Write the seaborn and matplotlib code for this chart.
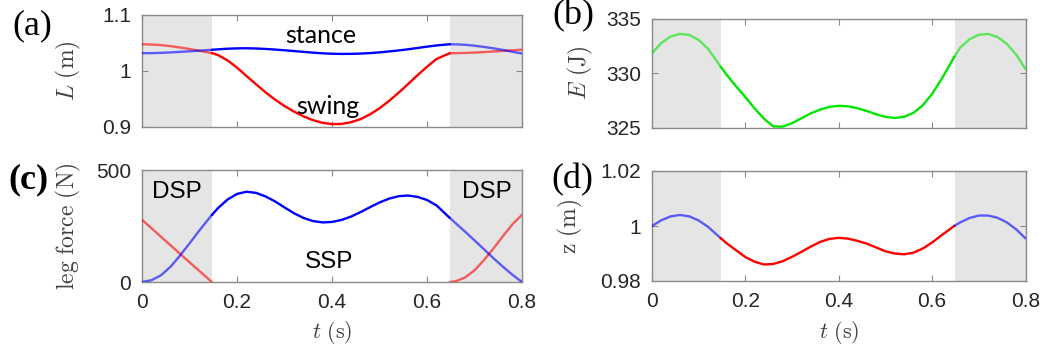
import numpy as np
import pandas as pd
import matplotlib
matplotlib.use("Agg")
import matplotlib.pyplot as plt
import seaborn as sns

# ---------------- data ----------------
t = [0, .02, .04, .06, .08, .10, .12, .147,
     .16, .18, .20, .22, .24, .26, .28, .30, .32, .34, .36, .38, .40, .42, .44, .46,
     .48, .50, .52, .54, .56, .58, .60, .62, .648,
     .66, .68, .70, .72, .74, .76, .78, .80]

dsp1_end = 0.147
dsp2_start = 0.648

# (a) leg length
L_stance = [1.0318, 1.0319, 1.0324, 1.0332, 1.0342, 1.0352, 1.0363, 1.0378,
            1.0387, 1.0398, 1.0404, 1.0406, 1.0402, 1.0394, 1.0383, 1.0370, 1.0356,
            1.0342, 1.0328, 1.0316, 1.0308, 1.0305, 1.0306, 1.0311, 1.0320, 1.0333,
            1.0349, 1.0367, 1.0388, 1.0411, 1.0435, 1.0456, 1.0478,
            1.0476, 1.0468, 1.0452, 1.0430, 1.0405, 1.0376, 1.0344, 1.0312]
L_swing = [1.0478, 1.0473, 1.0462, 1.0444, 1.0420, 1.0393, 1.0363, 1.0320,
           1.0285, 1.0190, 1.0060, 0.9910, 0.9765, 0.9620, 0.9490, 0.9375, 0.9275,
           0.9190, 0.9122, 0.9075, 0.9052, 0.9055, 0.9085, 0.9140, 0.9225, 0.9335,
           0.9465, 0.9610, 0.9765, 0.9925, 1.0075, 1.0215, 1.0318,
           1.0318, 1.0322, 1.0329, 1.0338, 1.0348, 1.0359, 1.0370, 1.0381]

# (b) energy
E = [331.84, 332.79, 333.39, 333.63, 333.53, 333.07, 332.26, 330.61,
     329.85, 328.80, 327.80, 326.75, 325.80, 325.10, 325.08, 325.40, 325.85,
     326.30, 326.65, 326.90, 327.00, 326.95, 326.78, 326.52, 326.22, 325.98,
     325.88, 325.98, 326.35, 327.05, 328.10, 329.45, 331.55,
     332.36, 333.13, 333.55, 333.62, 333.34, 332.71, 331.72, 330.39]

# (c) leg forces
F_blue = [0, 8, 30, 68, 118, 172, 228, 299,
          330, 368, 393, 403, 398, 382, 360, 333, 307, 286, 272, 266, 268, 277, 292,
          312, 334, 355, 372, 383, 386, 380, 366, 342, 286,
          263, 225, 186, 146, 106, 68, 32, 0]
F_red = [278, 240, 202, 164, 126, 88, 51, 0,
         None, None, None, None, None, None, None, None, None, None, None, None, None,
         None, None, None, None, None, None, None, None, None, None, None, 0,
         3, 20, 52, 98, 150, 205, 258, 300]

# (d) CoM height
z = [1.0000, 1.0021, 1.0035, 1.0040, 1.0035, 1.0020, 0.9997, 0.9956,
     0.9937, 0.9912, 0.9887, 0.9870, 0.9860, 0.9862, 0.9872, 0.9888, 0.9906,
     0.9925, 0.9942, 0.9953, 0.9957, 0.9954, 0.9946, 0.9936, 0.9922, 0.9908,
     0.9900, 0.9897, 0.9903, 0.9918, 0.9940, 0.9966, 1.0001,
     1.0013, 1.0029, 1.0038, 1.0038, 1.0030, 1.0013, 0.9988, 0.9955]

xticks = [0, 0.2, 0.4, 0.6, 0.8]
xticklabels = ["0", "0.2", "0.4", "0.6", "0.8"]

# ---------------- style ----------------
sns.set_style("white")
plt.rcParams["font.family"] = ["Liberation Sans", "DejaVu Sans"]
plt.rcParams["mathtext.fontset"] = "cm"

W, H = 1045, 349
fig = plt.figure(figsize=(W / 100, H / 100), dpi=100)

def px_rect(x0, x1, y0, y1):
    return [x0 / W, 1 - y1 / H, (x1 - x0) / W, (y1 - y0) / H]

ax_a = fig.add_axes(px_rect(142, 522, 15, 127))
ax_c = fig.add_axes(px_rect(142, 522, 170, 282))
ax_b = fig.add_axes(px_rect(652, 1025.5, 19, 127.5))
ax_d = fig.add_axes(px_rect(652, 1025.5, 171, 281))

GRAY = "#e5e5e5"
SPINE = "#8a8a8a"
BLUE = "#0000ff"
RED = "#ff0000"
GREEN = "#00e600"
LABEL = "#404040"
FADE = 0.6

tt = np.array(t, dtype=float)

def segments(ax, y, color, parts=("d1", "s", "d2"), colors=None):
    yy = np.array([np.nan if v is None else v for v in y], dtype=float)
    masks = {
        "d1": tt <= dsp1_end + 1e-9,
        "s": (tt >= dsp1_end - 1e-9) & (tt <= dsp2_start + 1e-9),
        "d2": tt >= dsp2_start - 1e-9,
    }
    for p in parts:
        m = masks[p] & ~np.isnan(yy)
        if m.sum() < 2:
            continue
        c = color if colors is None else colors[p]
        df = pd.DataFrame({"t": tt[m], "v": yy[m]})
        sns.lineplot(data=df, x="t", y="v", ax=ax, color=c, lw=1.7,
                     alpha=(1.0 if p == "s" else FADE), sort=False,
                     estimator=None, zorder=3)

def style(ax, yticks, yticklabels, ylim, show_x):
    ax.axvspan(0, dsp1_end, color=GRAY, lw=0, zorder=0)
    ax.axvspan(dsp2_start, 0.8, color=GRAY, lw=0, zorder=0)
    ax.set_xlim(0, 0.8)
    ax.set_ylim(*ylim)
    ax.set_xticks(xticks)
    ax.set_yticks(yticks)
    ax.set_yticklabels(yticklabels)
    if show_x:
        ax.set_xticklabels(xticklabels)
    else:
        ax.set_xticklabels([])
    ax.tick_params(direction="in", length=4, width=0.8, color=SPINE,
                   top=True, right=True, bottom=True, left=True,
                   labelsize=15, labelcolor="#262626", pad=8)
    for s in ax.spines.values():
        s.set_color(SPINE)
        s.set_linewidth(1.0)
        s.set_visible(True)
    ax.set_xlabel("")
    ax.set_ylabel("")
    ax.set_facecolor("white")

LFS = 17

# (a)
segments(ax_a, L_swing, RED)
segments(ax_a, L_stance, BLUE)
style(ax_a, [0.9, 1.0, 1.1], ["0.9", "1", "1.1"], (0.9, 1.1), False)
ax_a.set_ylabel(r"$L\ (\mathrm{m})$", fontsize=LFS, color=LABEL)
ax_a.yaxis.set_label_coords(-0.155, 0.5)
ax_a.text(0.377, 1.064, "stance", family=["Lato", "DejaVu Sans"], fontsize=18,
          ha="center", va="center", color="black", zorder=5)
ax_a.text(0.392, 0.936, "swing", family=["Lato", "DejaVu Sans"], fontsize=18,
          ha="center", va="center", color="black", zorder=5)

# (b)
segments(ax_b, E, GREEN)
style(ax_b, [325, 330, 335], ["325", "330", "335"], (325, 335), False)
ax_b.set_ylabel(r"$E\ (\mathrm{J})$", fontsize=LFS, color=LABEL)
ax_b.yaxis.set_label_coords(-0.153, 0.5)

# (c)
segments(ax_c, F_red, RED, parts=("d1", "d2"))
segments(ax_c, F_blue, BLUE)
style(ax_c, [0, 500], ["0", "500"], (0, 500), True)
ax_c.set_ylabel(r"$\mathrm{leg\ force\ (N)}$", fontsize=LFS, color=LABEL)
ax_c.yaxis.set_label_coords(-0.155, 0.5)
ax_c.set_xlabel(r"$t\ (\mathrm{s})$", fontsize=16, color=LABEL)
ax_c.xaxis.set_label_coords(0.5, -0.33)
for xx, lab in [(0.074, "DSP"), (0.726, "DSP")]:
    ax_c.text(xx, 402, lab, fontsize=17.5, ha="center", va="center", color="black", zorder=5)
ax_c.text(0.394, 89, "SSP", fontsize=17.5, ha="center", va="center", color="black", zorder=5)

# (d)
segments(ax_d, z, RED, colors={"d1": BLUE, "s": RED, "d2": BLUE})
style(ax_d, [0.98, 1.0, 1.02], ["0.98", "1", "1.02"], (0.98, 1.02), True)
ax_d.set_ylabel(r"$\mathrm{z\ (m)}$", fontsize=LFS, color=LABEL)
ax_d.yaxis.set_label_coords(-0.18, 0.5)
ax_d.set_xlabel(r"$t\ (\mathrm{s})$", fontsize=16, color=LABEL)
ax_d.xaxis.set_label_coords(0.5, -0.345)

for ax in (ax_a, ax_b, ax_c, ax_d):
    leg = ax.get_legend()
    if leg is not None:
        leg.remove()

# panel labels
SERIF = ["Liberation Serif", "DejaVu Serif"]
for (x, y, lab, wt) in [(32, 26, "(a)", "normal"), (573, 16, "(b)", "normal"),
                        (28, 180, "(c)", "bold"), (572, 180, "(d)", "normal")]:
    fig.text(x / W, 1 - y / H, lab, family=SERIF, fontsize=26, fontweight=wt,
             ha="center", va="center", color="black")

fig.savefig("out.png", dpi=100, facecolor="white")
